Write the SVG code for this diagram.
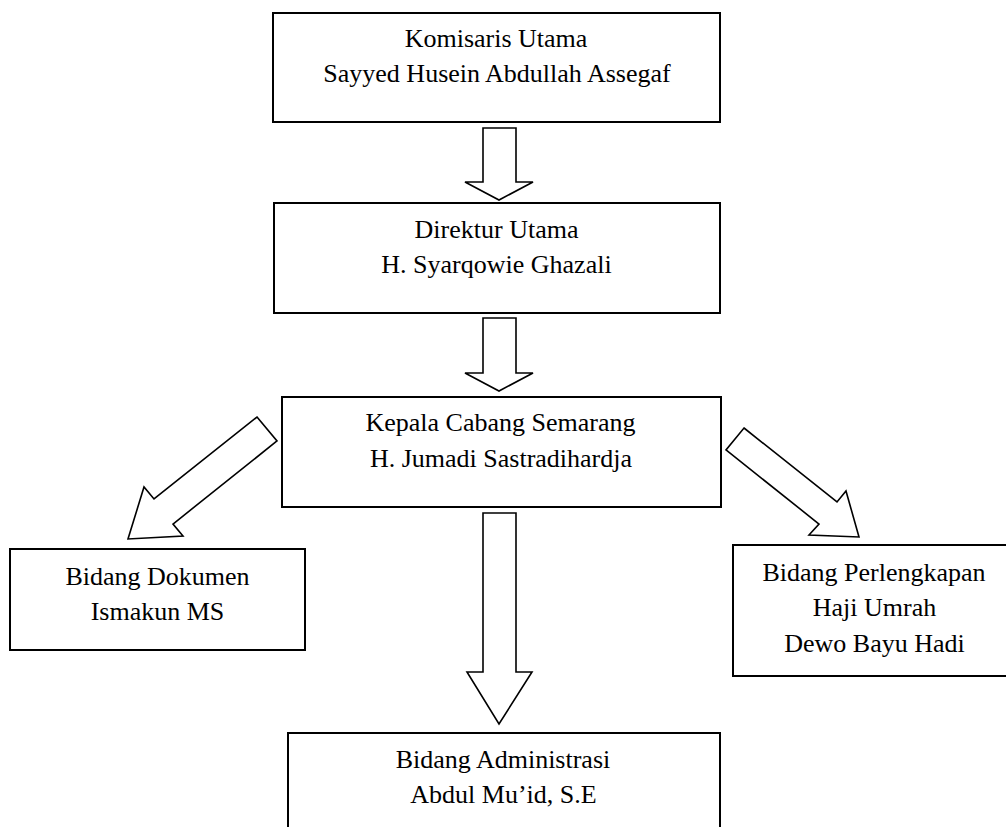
<svg xmlns="http://www.w3.org/2000/svg" width="1006" height="827" viewBox="0 0 1006 827">
<style>
.box{fill:#fff;stroke:#000;stroke-width:2}
.arr{fill:#fff;stroke:#000;stroke-width:1.6;stroke-linejoin:miter}
.t{font-family:'Liberation Serif',serif;font-size:26px;fill:#000;text-anchor:middle}
</style>
<rect width="1006" height="827" fill="#fff"/>
<g id="connectors">
<polygon class="arr" points="483,128 516,128 516,182 533,182 499,200 465,182 483,182"/>
<polygon class="arr" points="483,318 516,318 516,373 533,373 499,391 465,373 483,373"/>
<polygon class="arr" points="483,513 516,513 516,672 532,672 499,724 467,672 483,672"/>
<polygon class="arr" points="257,417 277,441 173,524 183,536 128,539 144,487 154,499"/>
<polygon class="arr" points="744,428 837,502 846,491 859,537 809,535 819,524 726,450"/>
</g>
<g id="komisaris">
<rect class="box" x="273" y="13" width="447" height="109"/>
<text class="t" x="496" y="47">Komisaris Utama</text>
<text class="t" x="497" y="82">Sayyed Husein Abdullah Assegaf</text>
</g>
<g id="direktur">
<rect class="box" x="274" y="203" width="446" height="110"/>
<text class="t" x="496.5" y="238">Direktur Utama</text>
<text class="t" x="496.5" y="273">H. Syarqowie Ghazali</text>
</g>
<g id="kepala">
<rect class="box" x="282" y="397" width="439" height="110"/>
<text class="t" x="500.5" y="431">Kepala Cabang Semarang</text>
<text class="t" x="501" y="467">H. Jumadi Sastradihardja</text>
</g>
<g id="dokumen">
<rect class="box" x="10" y="549" width="295" height="101"/>
<text class="t" x="157.5" y="585">Bidang Dokumen</text>
<text class="t" x="157.5" y="620">Ismakun MS</text>
</g>
<g id="perlengkapan">
<rect class="box" x="733" y="545" width="280" height="131"/>
<text class="t" x="874" y="581">Bidang Perlengkapan</text>
<text class="t" x="874.5" y="616">Haji Umrah</text>
<text class="t" x="874.5" y="652">Dewo Bayu Hadi</text>
</g>
<g id="administrasi">
<rect class="box" x="288" y="733" width="432" height="110"/>
<text class="t" x="503" y="768">Bidang Administrasi</text>
<text class="t" x="503.5" y="803">Abdul Mu’id, S.E</text>
</g>
</svg>
